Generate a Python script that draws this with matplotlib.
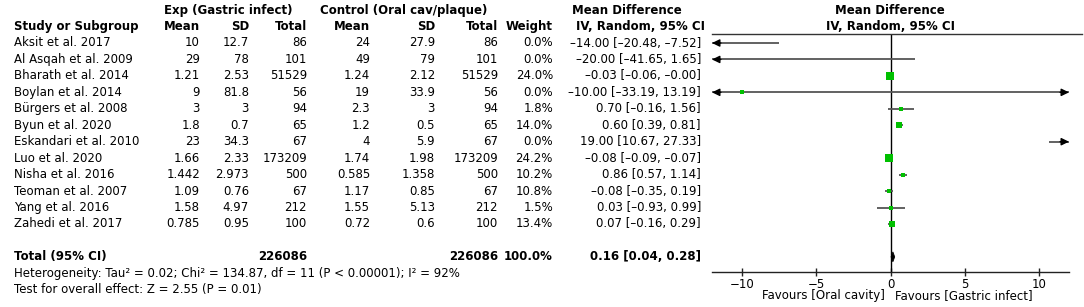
import matplotlib
matplotlib.use("Agg")
import matplotlib.pyplot as plt
from matplotlib.transforms import blended_transform_factory
from matplotlib.patches import Polygon
from matplotlib.lines import Line2D
import numpy as np

studies = ["Aksit et al. 2017", "Al Asqah et al. 2009", "Bharath et al. 2014",
           "Boylan et al. 2014", "Bürgers et al. 2008", "Byun et al. 2020",
           "Eskandari et al. 2010", "Luo et al. 2020", "Nisha et al. 2016",
           "Teoman et al. 2007", "Yang et al. 2016", "Zahedi et al. 2017"]
exp_mean = [10, 29, 1.21, 9, 3, 1.8, 23, 1.66, 1.442, 1.09, 1.58, 0.785]
exp_sd = [12.7, 78, 2.53, 81.8, 3, 0.7, 34.3, 2.33, 2.973, 0.76, 4.97, 0.95]
exp_n = [86, 101, 51529, 56, 94, 65, 67, 173209, 500, 67, 212, 100]
ctl_mean = [24, 49, 1.24, 19, 2.3, 1.2, 4, 1.74, 0.585, 1.17, 1.55, 0.72]
ctl_sd = [27.9, 79, 2.12, 33.9, 3, 0.5, 5.9, 1.98, 1.358, 0.85, 5.13, 0.6]
ctl_n = [86, 101, 51529, 56, 94, 65, 67, 173209, 500, 67, 212, 100]
weights = [0.0, 0.0, 24.0, 0.0, 1.8, 14.0, 0.0, 24.2, 10.2, 10.8, 1.5, 13.4]
md = [-14.00, -20.00, -0.03, -10.00, 0.70, 0.60, 19.00, -0.08, 0.86, -0.08, 0.03, 0.07]
ci_lo = [-20.48, -41.65, -0.06, -33.19, -0.16, 0.39, 10.67, -0.09, 0.57, -0.35, -0.93, -0.16]
ci_hi = [-7.52, 1.65, -0.00, 13.19, 1.56, 0.81, 27.33, -0.07, 1.14, 0.19, 0.99, 0.29]
total_exp_n = 226086
total_ctl_n = 226086
total_weight = 100.0
total_md = 0.16
total_lo = 0.04
total_hi = 0.28
heterogeneity = "Heterogeneity: Tau² = 0.02; Chi² = 134.87, df = 11 (P < 0.00001); I² = 92%"
overall = "Test for overall effect: Z = 2.55 (P = 0.01)"
x_ticks = [-10, -5, 0, 5, 10]
fav_left = "Favours [Oral cavity]"
fav_right = "Favours [Gastric infect]"

W, H = 1084, 307
XMIN, XMAX = -12, 12
FS = 8.5
GREEN = "#00C000"
LINEC = "#555555"

plt.rcParams["font.family"] = ["DejaVu Sans"]
fig = plt.figure(figsize=(W / 100, H / 100), dpi=100)

# forest axes: pixel x 712..1069, y 34..272
ax_l, ax_r, ax_t, ax_b = 712, 1069, 34, 272
ax = fig.add_axes([ax_l / W, 1 - ax_b / H, (ax_r - ax_l) / W, (ax_b - ax_t) / H])
row_top = (ax_t - 43) / 16.45
row_bot = (ax_b - 43) / 16.45
ax.set_xlim(XMIN, XMAX)
ax.set_ylim(row_bot, row_top)
for s in ["left", "right", "top"]:
    ax.spines[s].set_visible(False)
ax.spines["bottom"].set_linewidth(1.0)
ax.spines["bottom"].set_color("#222222")
ax.set_yticks([])
ax.set_xticks(x_ticks)
ax.set_xticklabels([f"{t:d}".replace("-", "\u2212") for t in x_ticks])
ax.tick_params(axis="x", direction="inout", length=6, width=1, labelsize=FS, pad=1, color="#222222")
ax.patch.set_alpha(0)

ax.axvline(0, color="black", lw=1.0, zorder=2)

def fmt(v):
    return f"{v:g}"

def fmt2(v):
    return f"{v:.2f}".replace("-", "\u2013")

n = len(studies)
for i in range(n):
    lo, hi = ci_lo[i], ci_hi[i]
    a, b = max(lo, XMIN), min(hi, XMAX)
    ax.plot([a, b], [i, i], color=LINEC, lw=1.3, solid_capstyle="butt", zorder=3)
    if lo < XMIN:
        ax.annotate("", xy=(XMIN, i), xytext=(XMIN + 0.6, i),
                    arrowprops=dict(arrowstyle="-|>,head_length=0.45,head_width=0.22",
                                    color="black", lw=1.0, shrinkA=0, shrinkB=0),
                    annotation_clip=False, zorder=4)
    if hi > XMAX:
        ax.annotate("", xy=(XMAX, i), xytext=(XMAX - 0.6, i),
                    arrowprops=dict(arrowstyle="-|>,head_length=0.45,head_width=0.22",
                                    color="black", lw=1.0, shrinkA=0, shrinkB=0),
                    annotation_clip=False, zorder=4)
    side_px = max(1.43 * np.sqrt(weights[i]), 3.2)
    if XMIN <= md[i] <= XMAX:
        ax.plot([md[i]], [i], marker="s", color=GREEN, markersize=side_px * 0.72,
                markeredgewidth=0, linestyle="none", zorder=5)

# total diamond
trow = n + 1
dh = 0.3
ax.add_patch(Polygon([(total_lo, trow), (total_md, trow - dh), (total_hi, trow), (total_md, trow + dh)],
                     closed=True, facecolor="black", edgecolor="black", lw=0.6, zorder=6))

# top rule line
fig.add_artist(Line2D([ax_l / W, 1082 / W], [1 - ax_t / H, 1 - ax_t / H], color="#333333", lw=1.0))

trans = blended_transform_factory(fig.transFigure, ax.transData)

def tx(px, row, s, ha="right", bold=False, fs=FS):
    fig.text(px / W, row, s, transform=trans, ha=ha, va="center",
             fontsize=fs, fontweight="bold" if bold else "normal", clip_on=False)

# headers
tx(228, -2, "Exp (Gastric infect)", ha="center", bold=True)
tx(404, -2, "Control (Oral cav/plaque)", ha="center", bold=True)
tx(627, -2, "Mean Difference", ha="center", bold=True)
tx(641, -1, "IV, Random, 95% CI", ha="center", bold=True)
tx(890, -2, "Mean Difference", ha="center", bold=True)
tx(890, -1, "IV, Random, 95% CI", ha="center", bold=True)
tx(14, -1, "Study or Subgroup", ha="left", bold=True)
cols = [200, 249, 307, 370, 435, 498, 553]
for px, lab in zip(cols, ["Mean", "SD", "Total", "Mean", "SD", "Total", "Weight"]):
    tx(px, -1, lab, bold=True)

for i in range(n):
    tx(14, i, studies[i], ha="left")
    tx(200, i, fmt(exp_mean[i]))
    tx(249, i, fmt(exp_sd[i]))
    tx(307, i, fmt(exp_n[i]))
    tx(370, i, fmt(ctl_mean[i]))
    tx(435, i, fmt(ctl_sd[i]))
    tx(498, i, fmt(ctl_n[i]))
    tx(553, i, f"{weights[i]:.1f}%")
    tx(701, i, f"{fmt2(md[i])} [{fmt2(ci_lo[i])}, {fmt2(ci_hi[i])}]")

tx(14, trow, "Total (95% CI)", ha="left", bold=True)
tx(307, trow, f"{total_exp_n}", bold=True)
tx(498, trow, f"{total_ctl_n}", bold=True)
tx(553, trow, f"{total_weight:.1f}%", bold=True)
tx(701, trow, f"{fmt2(total_md)} [{fmt2(total_lo)}, {fmt2(total_hi)}]", bold=True)
tx(14, trow + 1, heterogeneity, ha="left")
tx(14, trow + 2, overall, ha="left")

# favours labels
fy = 1 - 296 / H
fig.text(885 / W, fy, fav_left, ha="right", va="center", fontsize=FS)
fig.text(895 / W, fy, fav_right, ha="left", va="center", fontsize=FS)

fig.savefig("out.png", dpi=100)
